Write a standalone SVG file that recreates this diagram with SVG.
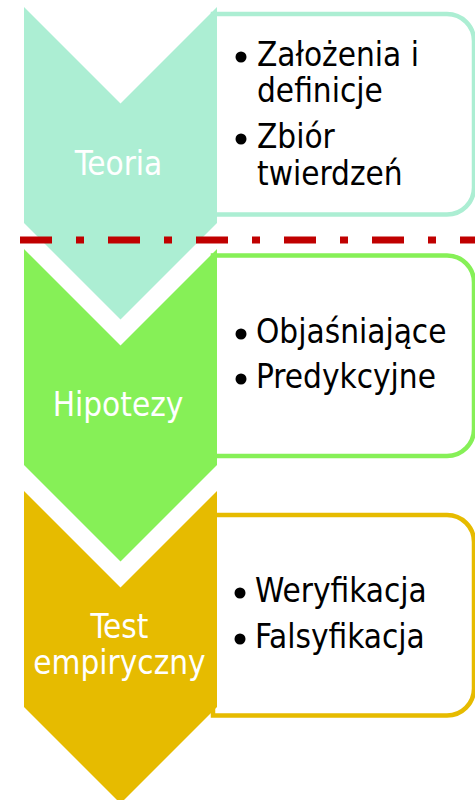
<svg xmlns="http://www.w3.org/2000/svg" width="475" height="800" viewBox="0 0 475 800">
<style>
  .lbl { font-family: "DejaVu Sans Condensed", "DejaVu Sans", sans-serif; font-stretch: condensed; font-size: 33px; fill: #ffffff; text-anchor: middle; }
  .itm { font-family: "DejaVu Sans Condensed", "DejaVu Sans", sans-serif; font-stretch: condensed; font-size: 33px; fill: #000000; }
  .box { fill: #ffffff; stroke-width: 4.5; }
  .teal { fill: #ACEED3; }
  .green { fill: #86F057; }
  .gold { fill: #E6BB00; }
  .bul { fill: #000000; }
</style>
<rect width="475" height="800" fill="#ffffff"/>
<g id="box1">
  <path class="box" stroke="#ACEED3" d="M213,14 H447 A27,27 0 0 1 474,41 V187.5 A27,27 0 0 1 447,214.5 H213 Z"/>
  <circle class="bul" cx="241" cy="57" r="5.5"/>
  <text class="itm" x="257" y="66">Założenia i</text>
  <text class="itm" x="257" y="102">definicje</text>
  <circle class="bul" cx="241" cy="139" r="5.5"/>
  <text class="itm" x="257" y="148">Zbiór</text>
  <text class="itm" x="257" y="185">twierdzeń</text>
</g>
<g id="box2">
  <path class="box" stroke="#86F057" d="M213,255.5 H447 A27,27 0 0 1 474,282.5 V429 A27,27 0 0 1 447,456 H213 Z"/>
  <circle class="bul" cx="241" cy="334" r="5.5"/>
  <text class="itm" x="256" y="343">Objaśniające</text>
  <circle class="bul" cx="241" cy="379" r="5.5"/>
  <text class="itm" x="256" y="388">Predykcyjne</text>
</g>
<g id="box3">
  <path class="box" stroke="#E6BB00" d="M213,515 H447 A27,27 0 0 1 474,542 V688.5 A27,27 0 0 1 447,715.5 H213 Z"/>
  <circle class="bul" cx="240" cy="593" r="5.5"/>
  <text class="itm" x="255" y="602">Weryfikacja</text>
  <circle class="bul" cx="240" cy="639" r="5.5"/>
  <text class="itm" x="255" y="648">Falsyfikacja</text>
</g>
<g id="teoria">
  <polygon class="teal" points="24,7 120.5,103.5 217,7 217,223 120.5,319.5 24,223"/>
  <text class="lbl" x="118.5" y="175">Teoria</text>
</g>
<g id="hipotezy">
  <polygon class="green" points="24,249 120.5,345.5 217,249 217,465 120.5,561.5 24,465"/>
  <text class="lbl" x="118" y="416">Hipotezy</text>
</g>
<g id="test">
  <polygon class="gold" points="24,491 120.5,587.5 217,491 217,707 120.5,803.5 24,707"/>
  <text class="lbl" x="119.5" y="638">Test</text>
  <text class="lbl" x="119.5" y="674">empiryczny</text>
</g>
<g id="connectors">
  <line x1="20" y1="240" x2="475" y2="240" stroke="#C00000" stroke-width="7" stroke-dasharray="32 24 8 24"/>
</g>
</svg>
